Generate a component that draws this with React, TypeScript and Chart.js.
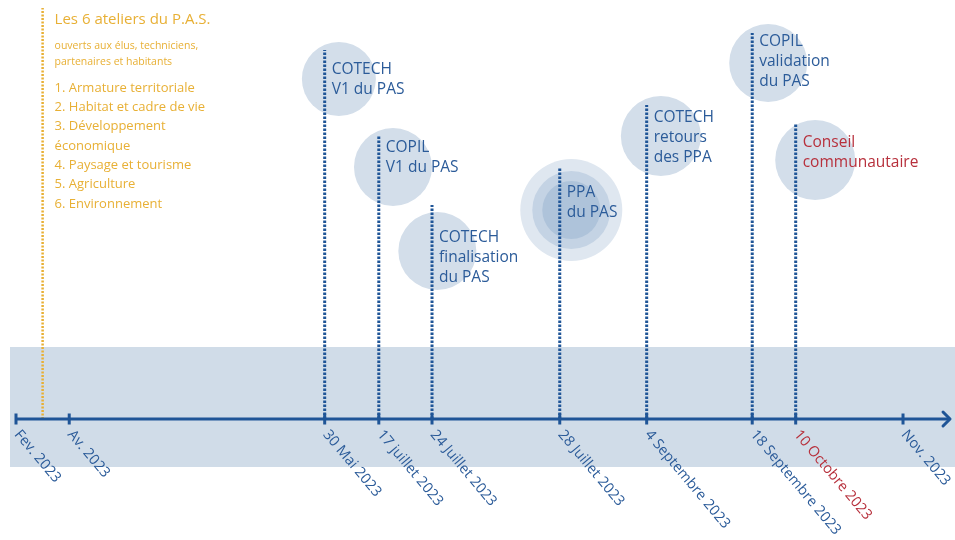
import React, { useEffect, useRef } from "react";
import { Chart, registerables } from "chart.js";

Chart.register(...registerables);

// ---- data ----
const tickLabels = [
  "Fev. 2023",
  "Av. 2023",
  "30 Mai 2023",
  "17 juillet 2023",
  "24 Juillet 2023",
  "28 Juillet 2023",
  "4 Septembre 2023",
  "18 Septembre 2023",
  "10 Octobre 2023",
  "Nov. 2023",
];
const tickPos = [0, 6, 34.8, 40.9, 46.9, 61.3, 71.1, 83.0, 87.9, 100];
const tickRed = [false, false, false, false, false, false, false, false, true, false];

const eventLabels = [
  ["COTECH", "V1 du PAS"],
  ["COPIL", "V1 du PAS"],
  ["COTECH", "finalisation", "du PAS"],
  ["PPA", "du PAS"],
  ["COTECH", "retours", "des PPA"],
  ["COPIL", "validation", "du PAS"],
  ["Conseil", "communautaire"],
];
const eventRed = [false, false, false, false, false, false, true];
const eventPos = [34.8, 40.9, 46.9, 61.3, 71.1, 83.0, 87.9];
const eventStem = [369, 284, 214, 252, 314, 386, 296];
const bubbleX = [36.4, 42.5, 47.5, 62.6, 72.7, 84.8, 90.1];
const bubbleY = [340, 252, 168, 209, 283, 356, 259];
const bubbleR = [37, 39, 39, 51, 40, 39, 40];
const labelTop = [349, 271, 181, 226, 301, 377, 276];

const atelierPos = 3.0;
const atelierTop = 411;
const atelierTitle = "Les 6 ateliers du P.A.S.";
const atelierSub = ["ouverts aux élus, techniciens,", "partenaires et habitants"];
const atelierList = [
  "1. Armature territoriale",
  "2. Habitat et cadre de vie",
  "3. Développement",
  "économique",
  "4. Paysage et tourisme",
  "5. Agriculture",
  "6. Environnement",
];

const BLUE = "#1f5597";
const TEXT_BLUE = "#2b5b99";
const RED = "#b7303c";
const YELLOW = "#e8b035";
const BAND = "#d0dce8";
const BUBBLE = "#d3deea";
const FONT = "'Open Sans', 'Noto Sans', sans-serif";

const textPlugin = {
  id: "timelineText",
  afterDatasetsDraw(chart: any) {
    const ctx = chart.ctx;
    const xs = chart.scales.x;
    const ys = chart.scales.y;
    ctx.save();
    // arrow head
    const tipX = xs.getPixelForValue(105.3);
    const y0 = ys.getPixelForValue(0);
    ctx.strokeStyle = BLUE;
    ctx.lineWidth = 3;
    ctx.lineCap = "round";
    ctx.lineJoin = "round";
    ctx.beginPath();
    ctx.moveTo(tipX - 7, y0 - 7);
    ctx.lineTo(tipX, y0);
    ctx.lineTo(tipX - 7, y0 + 7);
    ctx.stroke();

    // tick labels (rotated)
    ctx.font = `14.5px ${FONT}`;
    ctx.textAlign = "left";
    ctx.textBaseline = "middle";
    tickLabels.forEach((t, i) => {
      const px = xs.getPixelForValue(tickPos[i]);
      ctx.save();
      ctx.translate(px + 1, y0 + 13);
      ctx.rotate((50 * Math.PI) / 180);
      ctx.fillStyle = tickRed[i] ? RED : TEXT_BLUE;
      ctx.fillText(t, 0, 0);
      ctx.restore();
    });

    // event labels
    ctx.font = `15.5px ${FONT}`;
    ctx.textBaseline = "middle";
    eventLabels.forEach((lines, i) => {
      const px = xs.getPixelForValue(eventPos[i]) + 7;
      const py = ys.getPixelForValue(labelTop[i]);
      ctx.fillStyle = eventRed[i] ? RED : TEXT_BLUE;
      lines.forEach((l, j) => ctx.fillText(l, px, py + j * 20));
    });

    // atelier texts
    const ax = xs.getPixelForValue(atelierPos) + 12;
    const atop = ys.getPixelForValue(atelierTop);
    ctx.fillStyle = YELLOW;
    ctx.font = `15px ${FONT}`;
    ctx.fillText(atelierTitle, ax, atop + 12);
    ctx.font = `10.5px ${FONT}`;
    atelierSub.forEach((l, j) => ctx.fillText(l, ax, atop + 38 + j * 16));
    ctx.font = `13px ${FONT}`;
    atelierList.forEach((l, j) => ctx.fillText(l, ax, atop + 80 + j * 19.3));
    ctx.restore();
  },
};

export default function App() {
  const ref = useRef<HTMLCanvasElement>(null);
  useEffect(() => {
    document.body.style.margin = "0";
    if (!ref.current) return;
    const bubbleColors = bubbleR.map(() => BUBBLE);
    bubbleColors[3] = "#dfe7f0";
    const datasets: any[] = [
      {
        type: "line",
        data: [
          { x: -0.68, y: 72 },
          { x: 106, y: 72 },
        ],
        borderWidth: 0,
        backgroundColor: BAND,
        fill: { value: -48 },
        pointRadius: 0,
        order: 20,
      },
      {
        type: "bubble",
        data: bubbleX.map((x, i) => ({ x, y: bubbleY[i], r: bubbleR[i] })),
        backgroundColor: bubbleColors,
        borderWidth: 0,
        order: 15,
      },
      {
        type: "bubble",
        data: [{ x: bubbleX[3], y: bubbleY[3], r: 39 }],
        backgroundColor: "#c4d3e4",
        borderWidth: 0,
        order: 14,
      },
      {
        type: "bubble",
        data: [{ x: bubbleX[3], y: bubbleY[3], r: 29 }],
        backgroundColor: "#aec3da",
        borderWidth: 0,
        order: 13,
      },
      {
        type: "line",
        data: [
          { x: atelierPos, y: 0 },
          { x: atelierPos, y: atelierTop },
        ],
        borderColor: YELLOW,
        borderWidth: 2.5,
        borderDash: [2, 1.5],
        pointRadius: 0,
        order: 6,
      },
      ...eventPos.map((x, i) => ({
        type: "line",
        data: [
          { x, y: 0 },
          { x, y: eventStem[i] },
        ],
        borderColor: BLUE,
        borderWidth: 3,
        borderDash: [2.5, 1.5],
        pointRadius: 0,
        order: 5,
      })),
      {
        type: "line",
        data: [
          { x: 0, y: 0 },
          { x: 105.3, y: 0 },
        ],
        borderColor: BLUE,
        borderWidth: 3,
        pointRadius: 0,
        order: 3,
      },
      {
        type: "scatter",
        data: tickPos.map((x) => ({ x, y: 0 })),
        pointStyle: "line",
        rotation: 90,
        radius: 5.5,
        borderColor: BLUE,
        borderWidth: 3,
        order: 1,
      },
    ];
    const chart = new Chart(ref.current, {
      type: "scatter",
      data: { datasets },
      options: {
        animation: false,
        responsive: false,
        maintainAspectRatio: false,
        events: [],
        layout: { padding: 0, autoPadding: false },
        plugins: { legend: { display: false }, tooltip: { enabled: false } },
        scales: {
          x: { type: "linear", min: -1.804, max: 105.86, display: false },
          y: { type: "linear", min: -121, max: 419, display: false },
        },
      },
      plugins: [textPlugin],
    } as any);
    return () => chart.destroy();
  }, []);
  return (
    <div style={{ width: 955, height: 540, background: "#fff" }}>
      <canvas ref={ref} width={955} height={540} style={{ width: 955, height: 540, display: "block" }} />
    </div>
  );
}
